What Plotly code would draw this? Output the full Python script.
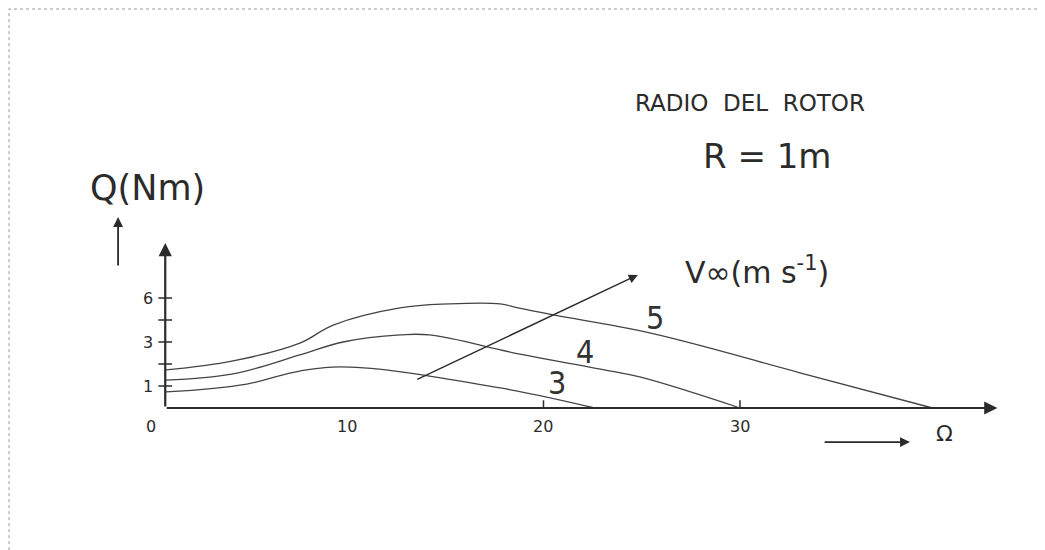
import plotly.graph_objects as go

# rotor speed (Omega) vs torque Q for three wind speeds
v_labels = ["3", "4", "5"]

omega_3 = [0.79, 4.9, 7.6, 10.15, 17.8, 22.6]
q_3 = [0.73, 1.09, 1.68, 1.86, 0.91, 0.0]

omega_4 = [0.79, 4.2, 7.6, 9.8, 12.7, 14.2, 18.8, 22.9, 24.9, 30.0]
q_4 = [1.27, 1.55, 2.41, 3.0, 3.32, 3.32, 2.45, 1.77, 1.41, 0.0]

omega_5 = [0.79, 4.2, 7.6, 9.3, 12.7, 15.2, 17.8, 18.7, 20.5, 25.4, 33.1, 39.8]
q_5 = [1.73, 2.14, 2.95, 3.77, 4.55, 4.73, 4.73, 4.55, 4.23, 3.41, 1.59, 0.0]

x_ticks = [0, 10, 20, 30]
y_ticks = [1, 2, 3, 4, 5]
y_tick_text = ["1", "", "3", "", "6"]

# label positions for the curve numbers (data coords)
label_x = [20.7, 22.1, 25.67]
label_y = [1.14, 2.55, 4.09]

INK = "#2b2b2b"
FONT = "DejaVu Sans"
NARROW = "Liberation Sans Narrow, DejaVu Sans Condensed"

fig = go.Figure()

for om, q in [(omega_3, q_3), (omega_4, q_4), (omega_5, q_5)]:
    fig.add_trace(go.Scatter(
        x=om, y=q, mode="lines",
        line=dict(color="#444444", width=1.3, shape="spline", smoothing=1.1),
        showlegend=False, hoverinfo="skip"
    ))

# --- axes drawn by hand ---
ann = []
ax0 = 0.75
# x axis with arrow
ann.append(dict(x=43.1, y=0, ax=ax0, ay=0, xref="x", yref="y", axref="x", ayref="y",
                showarrow=True, arrowhead=2, arrowsize=1.2, arrowwidth=2.2, arrowcolor=INK, text=""))
# y axis with arrow
ann.append(dict(x=ax0, y=7.5, ax=ax0, ay=0, xref="x", yref="y", axref="x", ayref="y",
                showarrow=True, arrowhead=2, arrowsize=1.2, arrowwidth=2.2, arrowcolor=INK, text=""))
# arrow next to Q(Nm)
ann.append(dict(x=-1.65, y=8.68, ax=-1.65, ay=6.41, xref="x", yref="y", axref="x", ayref="y",
                showarrow=True, arrowhead=2, arrowsize=1.1, arrowwidth=1.8, arrowcolor=INK, text=""))
# arrow under the x axis
ann.append(dict(x=38.65, y=-1.55, ax=34.23, ay=-1.55, xref="x", yref="y", axref="x", ayref="y",
                showarrow=True, arrowhead=2, arrowsize=1.1, arrowwidth=1.8, arrowcolor=INK, text=""))
# increasing wind speed arrow
ann.append(dict(x=24.8, y=6.05, ax=13.5, ay=1.27, xref="x", yref="y", axref="x", ayref="y",
                showarrow=True, arrowhead=2, arrowsize=1.3, arrowwidth=1.4, arrowcolor=INK, text=""))

for xv in x_ticks:
    ann.append(dict(x=xv, y=-0.82, text=str(xv), showarrow=False, xref="x", yref="y",
                    font=dict(family=FONT, size=16, color=INK)))
for yv, yt in zip(y_ticks, y_tick_text):
    if yt:
        ann.append(dict(x=-0.13, y=yv, text=yt, showarrow=False, xref="x", yref="y",
                        font=dict(family=FONT, size=16, color=INK)))

for lx, ly, lt in zip(label_x, label_y, v_labels):
    ann.append(dict(x=lx, y=ly, text=lt, showarrow=False, xref="x", yref="y",
                    font=dict(family=NARROW, size=32, color="#333333")))

ann.append(dict(x=30.51, y=13.86, text="RADIO  DEL  ROTOR", showarrow=False, xref="x", yref="y",
                font=dict(family=FONT, size=23, color=INK)))
ann.append(dict(x=31.35, y=11.45, text="R = 1m", showarrow=False, xref="x", yref="y",
                font=dict(family=FONT, size=34, color=INK)))
ann.append(dict(x=-0.13, y=10.0, text="Q(Nm)", showarrow=False, xref="x", yref="y",
                font=dict(family=FONT, size=35, color=INK)))
ann.append(dict(x=30.87, y=6.27, text="V∞(m s<sup>-1</sup>)", showarrow=False, xref="x", yref="y",
                font=dict(family=FONT, size=30, color=INK)))
ann.append(dict(x=40.43, y=-1.14, text="Ω", showarrow=False, xref="x", yref="y",
                font=dict(family=FONT, size=22, color=INK)))

shapes = []
for yv in y_ticks:
    shapes.append(dict(type="line", x0=ax0 - 0.35, x1=ax0 + 0.35, y0=yv, y1=yv,
                       xref="x", yref="y", line=dict(color=INK, width=1.5)))
for xv in x_ticks[2:]:
    shapes.append(dict(type="line", x0=xv, x1=xv, y0=0, y1=0.35,
                       xref="x", yref="y", line=dict(color=INK, width=1.5)))
# page border (the page itself sits 8px in from the window edge)
shapes.append(dict(type="rect", x0=0.001, x1=1032 / 1045, y0=-0.1, y1=1 - 1 / 550,
                   xref="paper", yref="paper", line=dict(color="#999999", width=1, dash="dot")))

fig.update_layout(
    width=1045, height=550,
    margin=dict(l=0, r=0, t=0, b=0),
    paper_bgcolor="white", plot_bgcolor="white",
    xaxis=dict(range=[-7.252, 45.93], visible=False, fixedrange=True),
    yaxis=dict(range=[-6.818, 18.182], visible=False, fixedrange=True),
    annotations=ann, shapes=shapes,
)

fig.write_html("out.html")
